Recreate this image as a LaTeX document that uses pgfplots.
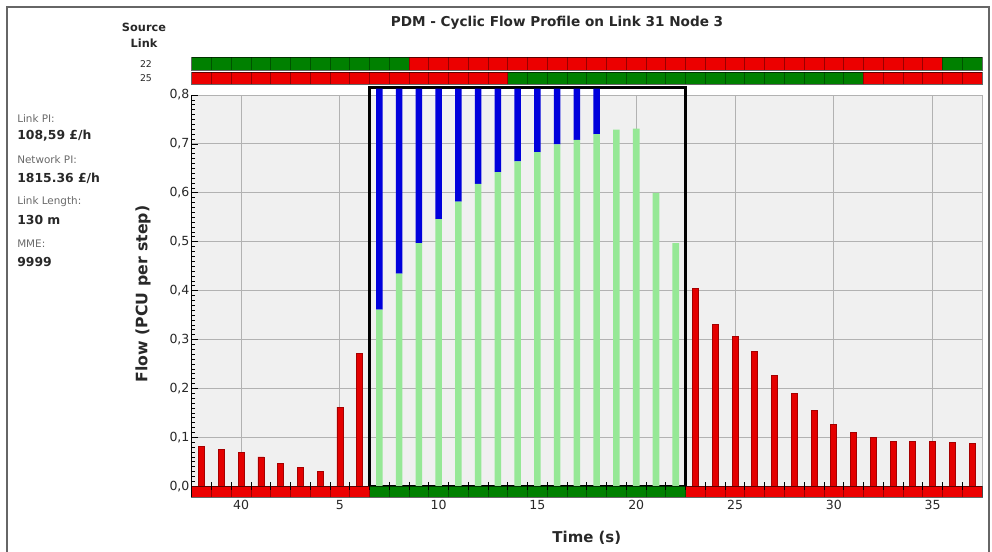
\documentclass[border=0pt]{standalone}
\usepackage{fontspec}
\setmainfont{DejaVu Sans}
\usepackage{pgfplots}
\pgfplotsset{compat=1.18}
\definecolor{sred}{RGB}{236,0,0}
\definecolor{sgreen}{RGB}{0,128,0}
\definecolor{barred}{RGB}{228,0,0}
\definecolor{barredd}{RGB}{165,0,0}
\definecolor{lgreen}{RGB}{150,232,150}
\definecolor{bblue}{RGB}{0,0,220}
\definecolor{bg}{RGB}{240,240,240}
\definecolor{gridc}{RGB}{178,178,178}
\definecolor{lab}{RGB}{105,105,105}
\definecolor{txt}{RGB}{40,40,40}
\pgfplotsset{
 mainbox/.style={at={(143.78pt,40.88pt)}, anchor=south west, scale only axis,
   width=592.7pt, height=301.9pt, xmin=37.5, xmax=77.5, ymin=-0.0229, ymax=0.8},
 striprow/.style={scale only axis, width=592.7pt, xmin=37.5, xmax=77.5, ymin=0, ymax=1,
   xtick={38.5,39.5,...,76.5}, ytick=\empty, xticklabels={}, xtick style={draw=none},
   xmajorgrids, grid style={black, opacity=0.35, line width=0.6pt},
   axis on top, axis line style={black, opacity=0.6, line width=0.6pt}, anchor=south west}
}
\begin{document}
\begin{tikzpicture}[x=0.75pt,y=0.75pt]
\useasboundingbox (0,0) rectangle (992,552);
\draw[black!60, line width=1.1pt] (7,-5) -- (7,545) -- (989,545) -- (989,-5);

% title and side texts
\node[font=\bfseries\fontsize{10.2}{12}\selectfont, text=txt, anchor=base] at (557,525) {PDM - Cyclic Flow Profile on Link 31 Node 3};
\node[font=\bfseries\fontsize{8.5}{10}\selectfont, text=txt, anchor=base] at (144,520.5) {Source};
\node[font=\bfseries\fontsize{8.5}{10}\selectfont, text=txt, anchor=base] at (144,504) {Link};
\node[font=\fontsize{7}{8}\selectfont, text=txt, anchor=base] at (146,484) {22};
\node[font=\fontsize{7}{8}\selectfont, text=txt, anchor=base] at (146,470.5) {25};

\node[font=\fontsize{7.8}{9}\selectfont, text=lab, anchor=base west, inner sep=0pt] at (17,429) {Link PI:};
\node[font=\bfseries\fontsize{9.3}{11}\selectfont, text=txt, anchor=base west, inner sep=0pt] at (17,412.5) {108,59 £/h};
\node[font=\fontsize{7.8}{9}\selectfont, text=lab, anchor=base west, inner sep=0pt] at (17,388.5) {Network PI:};
\node[font=\bfseries\fontsize{9.3}{11}\selectfont, text=txt, anchor=base west, inner sep=0pt] at (17,369) {1815.36 £/h};
\node[font=\fontsize{7.8}{9}\selectfont, text=lab, anchor=base west, inner sep=0pt] at (17,347) {Link Length:};
\node[font=\bfseries\fontsize{9.3}{11}\selectfont, text=txt, anchor=base west, inner sep=0pt] at (17,327) {130 m};
\node[font=\fontsize{7.8}{9}\selectfont, text=lab, anchor=base west, inner sep=0pt] at (17,304.5) {MME:};
\node[font=\bfseries\fontsize{9.3}{11}\selectfont, text=txt, anchor=base west, inner sep=0pt] at (17,285) {9999};

% main axis
\begin{axis}[mainbox,
 clip=false,
 axis background/.style={fill=bg},
 axis line style={draw=none},
 xtick={40,45,50,55,60,65,70,75}, xticklabels={40,5,10,15,20,25,30,35},
 ytick={0,0.1,0.2,0.3,0.4,0.5,0.6,0.7,0.8},
 minor y tick num=9,
 xmajorgrids, ymajorgrids, grid style={gridc, line width=0.6pt},
 xtick style={draw=none},
 ytick style={black, line width=0.5pt},
 tick align=inside, ytick pos=left, xtick pos=left,
 major tick length=4.5pt, minor tick length=2.2pt,
 /pgf/number format/assume math mode=true,
 tick label style={font=\fontsize{9.4}{11}\selectfont, text=txt},
 y tick label style={/pgf/number format/.cd, fixed, fixed zerofill, precision=1, use comma, /tikz/.cd, inner sep=1.5pt},
 x tick label style={inner sep=2pt},
 xlabel={Time (s)},
 xlabel style={font=\bfseries\fontsize{11.2}{13}\selectfont, text=txt, at={(axis description cs:0.5,-0.1006)}, anchor=center},
 ylabel={Flow (PCU per step)},
 ylabel style={font=\bfseries\fontsize{11.8}{13}\selectfont, text=txt, at={(axis description cs:-0.0616,0.5056)}, anchor=center},
]
% red flow bars
\addplot[ybar, bar width=4.5pt, bar shift=0pt, fill=barred, draw=barredd, line width=0.5pt] coordinates {
(38,0.082)(39,0.075)(40,0.069)(41,0.060)(42,0.046)(43,0.038)(44,0.031)(45,0.162)(46,0.271)
(63,0.404)(64,0.331)(65,0.307)(66,0.275)(67,0.227)(68,0.190)(69,0.155)(70,0.127)(71,0.110)(72,0.100)(73,0.092)(74,0.092)(75,0.092)(76,0.090)(77,0.087)};
\draw[black, line width=0.8pt] (axis description cs:0,0) -- (axis description cs:0,1);
\draw[gridc, line width=0.6pt] (axis description cs:1,0) -- (axis description cs:1,1);
\end{axis}

% green phase: flow (light green) with the blue part stacked above it
\begin{axis}[mainbox, clip=false, hide axis, ybar stacked, bar width=4.9pt]
\addplot[fill=lgreen, draw=none] coordinates {
(47,0.361)(48,0.435)(49,0.497)(50,0.546)(51,0.582)(52,0.618)(53,0.642)(54,0.664)(55,0.683)(56,0.699)(57,0.708)(58,0.720)(59,0.729)(60,0.731)(61,0.600)(62,0.497)};
\addplot[fill=bblue, draw=none] coordinates {
(47,0.452)(48,0.378)(49,0.316)(50,0.267)(51,0.231)(52,0.195)(53,0.171)(54,0.149)(55,0.130)(56,0.114)(57,0.105)(58,0.093)(59,0)(60,0)(61,0)(62,0)};
\draw[black, line width=2pt] (axis cs:46.5,0) rectangle (axis cs:62.5,0.8157);
\end{axis}

% bottom signal strip
\begin{axis}[striprow, at={(143.78pt,40.88pt)}, height=8.4pt,
  xtick pos=right, tick align=center, xtick style={draw=black, line width=0.6pt}, major tick length=6pt]
\addplot[fill=sred, draw=none] coordinates {(37.5,0)(46.5,0)(46.5,1)(37.5,1)} -- cycle;
\addplot[fill=sgreen, draw=none] coordinates {(46.5,0)(62.5,0)(62.5,1)(46.5,1)} -- cycle;
\addplot[fill=sred, draw=none] coordinates {(62.5,0)(77.5,0)(77.5,1)(62.5,1)} -- cycle;
\end{axis}

% source link 25
\begin{axis}[striprow, at={(143.78pt,350.8pt)}, height=9pt]
\addplot[fill=sred, draw=none] coordinates {(37.5,0)(53.5,0)(53.5,1)(37.5,1)} -- cycle;
\addplot[fill=sgreen, draw=none] coordinates {(53.5,0)(71.5,0)(71.5,1)(53.5,1)} -- cycle;
\addplot[fill=sred, draw=none] coordinates {(71.5,0)(77.5,0)(77.5,1)(71.5,1)} -- cycle;
\end{axis}

% source link 22
\begin{axis}[striprow, at={(143.78pt,361.5pt)}, height=9.5pt]
\addplot[fill=sgreen, draw=none] coordinates {(37.5,0)(48.5,0)(48.5,1)(37.5,1)} -- cycle;
\addplot[fill=sred, draw=none] coordinates {(48.5,0)(75.5,0)(75.5,1)(48.5,1)} -- cycle;
\addplot[fill=sgreen, draw=none] coordinates {(75.5,0)(77.5,0)(77.5,1)(75.5,1)} -- cycle;
\end{axis}
\end{tikzpicture}
\end{document}
